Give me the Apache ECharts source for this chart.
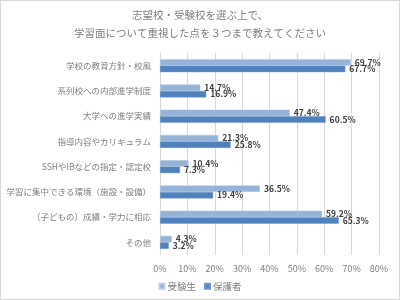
<!DOCTYPE html>
<html>
<head>
<meta charset="utf-8">
<script src="https://cdn.jsdelivr.net/npm/echarts@6/dist/echarts.min.js"></script>
<style>
  html, body { margin: 0; padding: 0; background: #fff; }
  #chart { width: 398px; height: 298px; border: 1px solid #d9d9d9; }
</style>
</head>
<body>
<div id="chart"></div>
<script>
// 項目（上から順）
var categories = [
  "学校の教育方針・校風",
  "系列校への内部進学制度",
  "大学への進学実績",
  "指導内容やカリキュラム",
  "SSHやIBなどの指定・認定校",
  "学習に集中できる環境（施設・設備）",
  "（子どもの）成績・学力に相応",
  "その他"
];
var students = [69.7, 14.7, 47.4, 21.3, 10.4, 36.5, 59.2, 4.3];
var parents = [67.7, 16.9, 60.5, 25.8, 7.3, 19.4, 65.3, 3.2];
var seriesNames = ["受験生", "保護者"];

var font = "'Noto Sans CJK JP', 'Noto Sans', sans-serif";
var myChart = echarts.init(document.getElementById("chart"));

var labelOpt = {
  show: true,
  position: "right",
  distance: 4,
  color: "#404040",
  fontSize: 8.5,
  fontWeight: "bold",
  fontFamily: font,
  formatter: function (p) { return p.value.toFixed(1) + "%"; }
};

var option = {
  animation: false,
  title: {
    text: "志望校・受験校を選ぶ上で、\n学習面について重視した点を３つまで教えてください",
    left: "center",
    top: 0,
    textStyle: { color: "#7f7f7f", fontSize: 10.5, fontWeight: "normal", fontFamily: font, lineHeight: 18 }
  },
  legend: {
    bottom: 3,
    left: "center",
    itemWidth: 5,
    itemHeight: 5,
    itemGap: 8,
    icon: "rect",
    textStyle: { color: "#7f7f7f", fontSize: 9.5, fontFamily: font, padding: [0, 0, 0, -2] },
    data: seriesNames
  },
  grid: { left: 159, right: 20, top: 52, bottom: 44, outerBoundsMode: "none", containLabel: false },
  xAxis: {
    type: "value",
    min: 0,
    max: 80,
    interval: 10,
    axisLabel: { formatter: "{value}%", color: "#7f7f7f", fontSize: 9, fontFamily: font, margin: 9 },
    axisLine: { show: false },
    axisTick: { show: false },
    splitLine: { lineStyle: { color: "#d9d9d9" } }
  },
  yAxis: {
    type: "category",
    inverse: true,
    data: categories,
    axisLabel: { color: "#7f7f7f", fontSize: 8.5, fontFamily: font, margin: 9 },
    axisLine: { lineStyle: { color: "#d9d9d9" } },
    axisTick: { show: false }
  },
  series: [
    {
      name: seriesNames[0],
      type: "bar",
      data: students,
      barWidth: 6.5,
      barGap: "0%",
      itemStyle: { color: "#95b3d7", borderColor: "#b8cce4", borderWidth: 0.5 },
      label: labelOpt
    },
    {
      name: seriesNames[1],
      type: "bar",
      data: parents,
      barWidth: 6.5,
      itemStyle: { color: "#4f81bd", borderColor: "#6d97c9", borderWidth: 0.5 },
      label: labelOpt
    }
  ]
};
myChart.setOption(option);
</script>
</body>
</html>
